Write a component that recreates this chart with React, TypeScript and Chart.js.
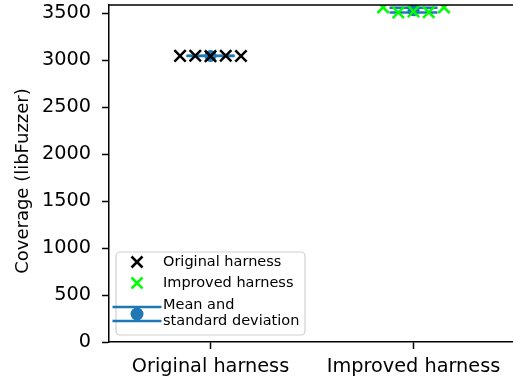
import React, { useEffect, useRef } from "react";
import { Chart, registerables } from "chart.js";

Chart.register(...registerables);

// Harness groups on the x axis (group i sits at x = i)
const CATEGORIES = ["Original harness", "Improved harness"];
// Horizontal spread of the individual runs around each group centre
const RUN_OFFSETS = [-0.15, -0.075, 0, 0.075, 0.15];
// Coverage reached by each of the five fuzzing runs
const ORIGINAL_COVERAGE = [3048, 3050, 3045, 3049, 3047];
const IMPROVED_COVERAGE = [3565, 3510, 3522, 3512, 3565];
// Y axis
const Y_TICKS = [0, 500, 1000, 1500, 2000, 2500, 3000, 3500];
const Y_MAX = 3590;
const X_MIN = -0.5;
const X_MAX = 1.49;
const Y_TITLE = "Coverage (libFuzzer)";
const LEGEND_ORIGINAL = "Original harness";
const LEGEND_IMPROVED = "Improved harness";
const LEGEND_STATS = ["Mean and", "standard deviation"];

const FONT = "DejaVu Sans";
const BLUE = "#1f77b4";
const GREEN = "#00ff00";

const mean = (a: number[]) => a.reduce((s, v) => s + v, 0) / a.length;
const std = (a: number[]) => {
  const m = mean(a);
  return Math.sqrt(a.reduce((s, v) => s + (v - m) * (v - m), 0) / a.length);
};

const groups = [ORIGINAL_COVERAGE, IMPROVED_COVERAGE];
const means = groups.map(mean);
const stds = groups.map(std);

const runPoints = (values: number[], group: number) =>
  values.map((v, i) => ({ x: group + RUN_OFFSETS[i], y: v }));

// Top spine of the axes box
const topSpine = {
  id: "topSpine",
  afterDraw(chart: any) {
    const { ctx, chartArea } = chart;
    ctx.save();
    ctx.strokeStyle = "#000";
    ctx.lineWidth = 1.5;
    ctx.beginPath();
    ctx.moveTo(chartArea.left - 0.75, chartArea.top);
    ctx.lineTo(chartArea.right + 2, chartArea.top);
    ctx.stroke();
    ctx.restore();
  },
};

// Rotated y-axis title
const yTitle = {
  id: "yTitle",
  afterDraw(chart: any) {
    const { ctx } = chart;
    ctx.save();
    ctx.translate(23, 181);
    ctx.rotate(-Math.PI / 2);
    ctx.font = `18px "${FONT}"`;
    ctx.fillStyle = "#000";
    ctx.textAlign = "center";
    ctx.textBaseline = "middle";
    ctx.fillText(Y_TITLE, 0, 0);
    ctx.restore();
  },
};

const drawX = (ctx: CanvasRenderingContext2D, cx: number, cy: number, color: string) => {
  const h = 5.5;
  ctx.strokeStyle = color;
  ctx.lineWidth = 2.5;
  ctx.beginPath();
  ctx.moveTo(cx - h, cy - h);
  ctx.lineTo(cx + h, cy + h);
  ctx.moveTo(cx - h, cy + h);
  ctx.lineTo(cx + h, cy - h);
  ctx.stroke();
};

// Legend box in the lower-left corner of the axes
const legendBox = {
  id: "legendBox",
  afterDraw(chart: any) {
    const { ctx, chartArea } = chart;
    const left = chartArea.left + 7;
    const bottom = chartArea.bottom - 7;
    const w = 189;
    const h = 83;
    const top = bottom - h;
    ctx.save();
    ctx.beginPath();
    if (ctx.roundRect) ctx.roundRect(left, top, w, h, 4);
    else ctx.rect(left, top, w, h);
    ctx.fillStyle = "rgba(255,255,255,0.8)";
    ctx.fill();
    ctx.strokeStyle = "#d0d0d0";
    ctx.lineWidth = 1.2;
    ctx.stroke();

    const mx = left + 21;
    const tx = left + 47;
    const r1 = top + 10;
    const r2 = top + 31;
    drawX(ctx, mx, r1, "#000");
    drawX(ctx, mx, r2, GREEN);

    // mean / std symbol
    const cy = top + 62;
    ctx.strokeStyle = BLUE;
    ctx.lineWidth = 2.5;
    ctx.beginPath();
    ctx.moveTo(mx - 24.5, cy - 7);
    ctx.lineTo(mx + 24.5, cy - 7);
    ctx.moveTo(mx - 24.5, cy + 7);
    ctx.lineTo(mx + 24.5, cy + 7);
    ctx.moveTo(mx, cy - 7);
    ctx.lineTo(mx, cy + 7);
    ctx.stroke();
    ctx.fillStyle = BLUE;
    ctx.beginPath();
    ctx.arc(mx, cy, 6.5, 0, Math.PI * 2);
    ctx.fill();

    ctx.font = `14.5px "${FONT}"`;
    ctx.fillStyle = "#000";
    ctx.textAlign = "left";
    ctx.textBaseline = "middle";
    ctx.fillText(LEGEND_ORIGINAL, tx, r1);
    ctx.fillText(LEGEND_IMPROVED, tx, r2);
    ctx.fillText(LEGEND_STATS[0], tx, top + 53);
    ctx.fillText(LEGEND_STATS[1], tx, top + 69);
    ctx.restore();
  },
};

export default function App() {
  const canvasRef = useRef<HTMLCanvasElement | null>(null);

  useEffect(() => {
    const canvas = canvasRef.current;
    if (!canvas) return;

    const tickFont = { family: FONT, size: 19.3 };
    const grid = {
      drawOnChartArea: false,
      drawTicks: true,
      tickLength: 7,
      tickWidth: 1.5,
      tickColor: "#000",
    };
    const border = { display: true, color: "#000", width: 1.5 };

    const errorBars = groups.map((_, g) => ({
      type: "line" as const,
      showLine: true,
      data: [
        { x: g, y: means[g] - stds[g] },
        { x: g, y: means[g] + stds[g] },
      ],
      borderColor: BLUE,
      borderWidth: 2.5,
      pointRadius: 0,
      fill: false,
    }));

    const chart = new Chart(canvas, {
      type: "scatter",
      data: {
        datasets: [
          {
            label: LEGEND_ORIGINAL,
            data: runPoints(ORIGINAL_COVERAGE, 0),
            pointStyle: "crossRot",
            pointRadius: 8,
            borderColor: "#000",
            backgroundColor: "#000",
            borderWidth: 2.5,
          },
          {
            label: LEGEND_IMPROVED,
            data: runPoints(IMPROVED_COVERAGE, 1),
            pointStyle: "crossRot",
            pointRadius: 8,
            borderColor: GREEN,
            backgroundColor: GREEN,
            borderWidth: 2.5,
          },
          {
            label: "mean",
            data: means.map((m, g) => ({ x: g, y: m })),
            pointStyle: "circle",
            pointRadius: 6,
            backgroundColor: BLUE,
            borderWidth: 0,
          },
          {
            label: "caps",
            data: means.flatMap((m, g) => [
              { x: g, y: m - stds[g] },
              { x: g, y: m + stds[g] },
            ]),
            pointStyle: "line",
            pointRadius: 24,
            borderColor: BLUE,
            borderWidth: 2.5,
          },
          ...errorBars,
        ] as any,
      },
      options: {
        responsive: false,
        animation: false,
        devicePixelRatio: 1,
        layout: { autoPadding: false, padding: { top: 5, left: 0, right: 0, bottom: 0 } },
        plugins: {
          legend: { display: false },
          tooltip: { enabled: false },
        },
        events: [],
        scales: {
          x: {
            type: "linear",
            min: X_MIN,
            max: X_MAX,
            afterBuildTicks: (s: any) => {
              s.ticks = CATEGORIES.map((_, i) => ({ value: i }));
            },
            afterFit: (s: any) => {
              s.height = 42;
              s.paddingLeft = 0;
              s.paddingRight = 0;
            },
            ticks: {
              callback: (v: any) => CATEGORIES[Number(v)] ?? "",
              font: tickFont,
              color: "#000",
              padding: 6,
              maxRotation: 0,
              autoSkip: false,
            },
            grid,
            border,
          },
          y: {
            type: "linear",
            min: 0,
            max: Y_MAX,
            afterBuildTicks: (s: any) => {
              s.ticks = Y_TICKS.map((v) => ({ value: v }));
            },
            afterFit: (s: any) => {
              s.width = 109;
              s.paddingTop = 0;
              s.paddingBottom = 0;
            },
            ticks: {
              callback: (v: any) => String(v),
              font: tickFont,
              color: "#000",
              padding: 11,
            },
            grid,
            border,
          },
        },
      },
      plugins: [topSpine, yTitle, legendBox],
    });

    return () => chart.destroy();
  }, []);

  return (
    <div style={{ position: "fixed", left: 0, top: 0, width: 513, height: 384, background: "#fff" }}>
      <canvas ref={canvasRef} width={513} height={384} style={{ display: "block" }} />
    </div>
  );
}
